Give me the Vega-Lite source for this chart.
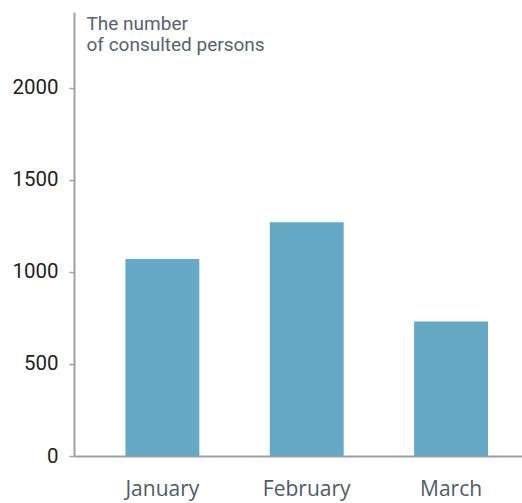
{
  "$schema": "https://vega.github.io/schema/vega-lite/v6.json",
  "autosize": {"type": "none"},
  "padding": {"left": 74, "top": 12, "right": 0, "bottom": 47},
  "width": 448,
  "height": 444,
  "background": "white",
  "config": {"view": {"stroke": null}},
  "data": {"values": [
    {"month": "January", "persons": 1070},
    {"month": "February", "persons": 1270},
    {"month": "March", "persons": 730}
  ]},
  "mark": {"type": "bar", "color": "#66a9c5"},
  "encoding": {
    "x": {
      "field": "month", "type": "nominal", "sort": null,
      "scale": {"paddingInner": 0.488, "paddingOuter": 0.296, "align": 0.602},
      "axis": {
        "title": null, "labelAngle": 0, "ticks": false,
        "domainColor": "#a0a0a0", "domainWidth": 2,
        "labelFont": "Open Sans", "labelFontSize": 21, "labelColor": "#4f5b66",
        "labelPadding": 22
      }
    },
    "y": {
      "field": "persons", "type": "quantitative",
      "scale": {"domain": [0, 2412], "nice": false},
      "axis": {
        "values": [0, 500, 1000, 1500, 2000],
        "format": "d",
        "grid": false,
        "domainColor": "#a0a0a0", "domainWidth": 2,
        "tickColor": "#a0a0a0", "tickSize": 5, "tickWidth": 1.5,
        "labelFont": "Roboto", "labelFontSize": 20.5, "labelColor": "#222222",
        "labelPadding": 11,
        "title": ["The number", "of consulted persons"],
        "titleAngle": 0, "titleAlign": "left", "titleBaseline": "top",
        "titleX": 12, "titleY": 2,
        "titleFont": "Roboto", "titleFontSize": 19, "titleFontWeight": "normal",
        "titleColor": "#56626c", "titleLineHeight": 21
      }
    }
  }
}
